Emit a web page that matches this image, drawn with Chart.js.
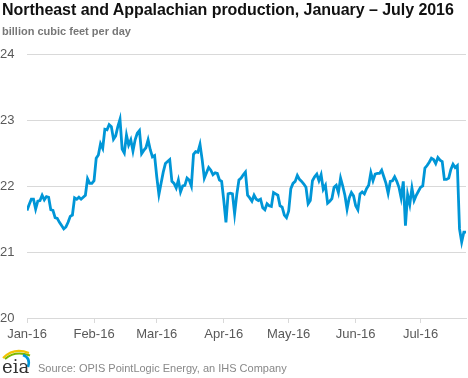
<!DOCTYPE html>
<html>
<head>
<meta charset="utf-8">
<script src="https://cdn.jsdelivr.net/npm/chart.js@4"></script>
<style>
  body { margin: 0; background: #fff; font-family: Arial, "Liberation Sans", sans-serif; }
  #wrap { position: relative; width: 468px; height: 378px; overflow: hidden; }
  #myChart { position: absolute; left: 0; top: 0; }
  .title { position: absolute; left: 2px; top: 1px; font-size: 16px; font-weight: bold; color: #111; white-space: nowrap; letter-spacing: -0.05px; }
  .sub { position: absolute; left: 2px; top: 25px; font-size: 11px; font-weight: bold; color: #777; white-space: nowrap; }
  .source { position: absolute; left: 38px; top: 362px; font-size: 11px; color: #888; white-space: nowrap; }
  .logo { position: absolute; left: 0px; top: 346px; }
</style>
</head>
<body>
<div id="wrap">
  <canvas id="myChart" width="468" height="378"></canvas>
  <div class="title">Northeast and Appalachian production, January – July 2016</div>
  <div class="sub">billion cubic feet per day</div>
  <svg class="logo" width="34" height="30" viewBox="0 0 34 30">
    <path d="M3 12 Q14 1 29 7" stroke="#f2c300" stroke-width="2" fill="none"/>
    <path d="M5 13 Q15 4 30 9.5" stroke="#7ab800" stroke-width="2" fill="none"/>
    <path d="M23 9 Q31 12 28 21" stroke="#0096d7" stroke-width="2.5" fill="none"/>
    <text x="2" y="27" font-family="DejaVu Serif, serif" font-size="18" fill="#333">eia</text>
  </svg>
  <div class="source">Source: OPIS PointLogic Energy, an IHS Company</div>
</div>
<script>
// daily production, Jan 1 to Jul 22 2016 (bcf/d)
const production = [
  21.63, 21.72, 21.80, 21.80, 21.65, 21.77, 21.78, 21.86, 21.79, 21.84,
  21.83, 21.64, 21.63, 21.52, 21.51, 21.45, 21.40, 21.35, 21.38, 21.45,
  21.54, 21.56, 21.82, 21.80, 21.83, 21.80, 21.83, 21.86, 22.11, 22.04,
  22.04, 22.08, 22.42, 22.47, 22.64, 22.57, 22.86, 22.85, 22.93, 22.90,
  22.71, 22.76, 22.90, 23.01, 22.56, 22.50, 22.77, 22.62, 22.70, 22.53,
  22.70, 22.80, 22.84, 22.49, 22.54, 22.58, 22.70, 22.55, 22.44, 22.46,
  22.14, 21.87, 22.04, 22.21, 22.34, 22.37, 22.40, 22.07, 22.04, 21.97,
  22.09, 21.91, 22.00, 22.01, 22.12, 22.09, 22.00, 22.48, 22.52, 22.51,
  22.63, 22.40, 22.12, 22.20, 22.28, 22.24, 22.17, 22.20, 22.19, 22.09,
  22.07, 21.78, 21.45, 21.88, 21.89, 21.88, 21.58, 21.87, 22.09, 22.12,
  22.17, 22.21, 21.86, 21.82, 21.77, 21.86, 21.80, 21.78, 21.80, 21.67,
  21.64, 21.73, 21.70, 21.69, 21.90, 21.88, 21.86, 21.70, 21.68, 21.56,
  21.52, 21.62, 21.96, 22.04, 22.07, 22.16, 22.10, 22.07, 22.03, 21.98,
  21.73, 21.78, 22.08, 22.14, 22.18, 22.08, 22.17, 21.95, 22.01, 21.74,
  21.77, 21.81, 21.98, 22.01, 21.90, 22.12, 22.00, 21.86, 21.65, 21.82,
  21.90, 21.85, 21.70, 21.64, 21.88, 21.91, 21.88, 21.96, 22.01, 22.20,
  22.08, 22.18, 22.19, 22.19, 22.24, 22.14, 22.04, 21.89, 22.07, 22.08,
  22.14, 22.07, 21.98, 21.82, 22.07, 21.40, 21.87, 21.72, 21.97, 21.78,
  21.86, 21.92, 21.98, 22.00, 22.27, 22.31, 22.36, 22.42, 22.40, 22.34,
  22.43, 22.39, 22.37, 22.10, 22.10, 22.12, 22.25, 22.33, 22.28, 22.31,
  21.35, 21.15, 21.30, 21.30
];

// day index of each month start, and its label
const monthStarts = [0, 31, 60, 91, 121, 152, 182];
const monthLabels = ['Jan-16', 'Feb-16', 'Mar-16', 'Apr-16', 'May-16', 'Jun-16', 'Jul-16'];

const yTicks = [20, 21, 22, 23, 24];

const points = production.map((v, i) => ({ x: i, y: v }));

const ctx = document.getElementById('myChart').getContext('2d');

const myChart = new Chart(ctx, {
  type: 'line',
  data: {
    datasets: [
      {
        label: 'Production',
        data: points,
        borderColor: '#0096d7',
        borderWidth: 2.8,
        pointRadius: 0,
        tension: 0,
        fill: false,
      },
    ],
  },
  options: {
    responsive: false,
    animation: false,
    layout: { padding: { top: 54, right: 2, bottom: 34, left: 0 } },
    plugins: {
      legend: { display: false },
      tooltip: { enabled: false },
    },
    scales: {
      x: {
        type: 'linear',
        min: 0,
        max: production.length - 1,
        afterBuildTicks: (axis) => {
          axis.ticks = monthStarts.map((v) => ({ value: v }));
        },
        afterFit: (axis) => { axis.height = 26; },
        ticks: {
          autoSkip: false,
          maxRotation: 0,
          padding: 4,
          color: '#595959',
          font: { family: 'Arial, "Liberation Sans"', size: 13 },
          callback: (v) => monthLabels[monthStarts.indexOf(v)],
        },
        grid: {
          drawOnChartArea: false,
          tickLength: 5,
          color: '#d9d9d9',
        },
        border: { display: true, color: '#d9d9d9' },
      },
      y: {
        min: 20,
        max: 24,
        afterBuildTicks: (axis) => {
          axis.ticks = yTicks.map((v) => ({ value: v }));
        },
        afterFit: (axis) => { axis.width = 27; },
        ticks: {
          crossAlign: 'far',
          padding: 0,
          color: '#595959',
          font: { family: 'Arial, "Liberation Sans"', size: 13 },
        },
        grid: {
          color: '#d9d9d9',
          drawTicks: false,
        },
        border: { display: false },
      },
    },
  },
});
</script>
</body>
</html>
